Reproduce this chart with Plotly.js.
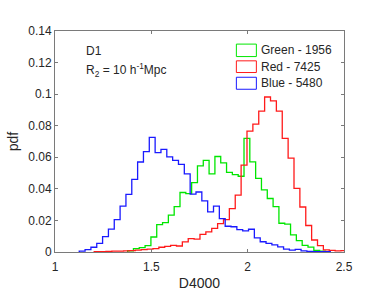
<!DOCTYPE html>
<html>
<head>
<meta charset="utf-8">
<script src="https://cdn.plot.ly/plotly-3.0.1.min.js"></script>
<style>html,body{margin:0;padding:0;background:#fff;}#chart{width:382px;height:305px;}</style>
</head>
<body>
<div id="chart"></div>
<script>
// Histogram (pdf per bin) data
var greenStart = 1.377, greenWidth = 0.0302;
var greenValues = [0.0008,0.0021,0.0028,0.004,0.0095,0.0174,0.0186,0.0233,0.0288,0.0377,0.037,
  0.044,0.0545,0.058,0.0495,0.0605,0.0565,0.0505,0.049,0.048,0.072,
  0.0571,0.0466,0.0394,0.0339,0.0288,0.0182,0.0177,0.0109,0.0072,0.0042,0.0031,0.001,0.0005];

var redStart = 1.2035, redWidth = 0.0305;
var redValues = [0.0003,0.0003,0.0004,0.0005,0.0006,0.0007,0.0009,0.0012,0.0015,0.0018,
  0.0022,0.003,0.0036,0.0042,0.0038,0.0064,0.0085,0.0082,0.0112,0.0127,0.015,0.018,0.0205,
  0.0275,0.036,0.055,0.0766,0.081,0.0893,0.0982,0.0957,0.0893,0.072,0.0595,0.0403,0.0285,
  0.0168,0.0076,0.004,0.0013,0.001,0.0007,0.0009];

var blueStart = 1.1258, blueWidth = 0.0303;
var blueValues = [0.0005,0.0015,0.003,0.0055,0.0098,0.0145,0.0205,0.029,0.0365,0.046,0.057,
  0.0636,0.0726,0.063,0.065,0.0603,0.058,0.0555,0.0495,0.0366,0.038,0.0324,0.0254,0.029,
  0.0212,0.0163,0.016,0.0142,0.0134,0.0144,0.009,0.0065,0.0055,0.0045,0.0033,0.0018,0.0012,
  0.0016,0.0007,0.0004,0.0003,0.0003,0.0002];

var seriesNames = ['Green - 1956', 'Red - 7425', 'Blue - 5480'];
var xTicks = [1, 1.5, 2, 2.5];
var yTicks = [0, 0.02, 0.04, 0.06, 0.08, 0.1, 0.12, 0.14];

function stairs(start, width, vals) {
  var x = [start], y = [0];
  for (var i = 0; i < vals.length; i++) { x.push(start + i * width); y.push(vals[i]); }
  var end = start + vals.length * width;
  x.push(end); y.push(vals[vals.length - 1]);
  x.push(end); y.push(0);
  return {x: x, y: y};
}

var colors = ['#00e600', '#ff1a1a', '#1a1aff'];
var sets = [[greenStart, greenWidth, greenValues], [redStart, redWidth, redValues], [blueStart, blueWidth, blueValues]];
var traces = sets.map(function (s, i) {
  var d = stairs(s[0], s[1], s[2]);
  return {x: d.x, y: d.y, type: 'scatter', mode: 'lines', line: {shape: 'hv', color: colors[i], width: 1.3},
          name: seriesNames[i], showlegend: false, hoverinfo: 'skip'};
});

var font = {family: 'Liberation Sans, Arial, sans-serif', size: 12, color: '#262626'};
var shapes = [], annotations = [];
var legY = [[0.1317, 0.1238, 0.1277], [0.1211, 0.1137, 0.1173], [0.1107, 0.1031, 0.1069]];
for (var i = 0; i < 3; i++) {
  shapes.push({type: 'rect', xref: 'x', yref: 'y', x0: 1.9413, x1: 2.0451, y0: legY[i][1], y1: legY[i][0],
               line: {color: colors[i], width: 1}, fillcolor: 'rgba(0,0,0,0)'});
  annotations.push({xref: 'x', yref: 'y', x: 2.058, y: legY[i][2], text: seriesNames[i], showarrow: false,
                    xanchor: 'left', yanchor: 'middle', font: font});
}
annotations.push({xref: 'x', yref: 'y', x: 1.152, y: 0.1272, text: 'D1', showarrow: false,
                  xanchor: 'left', yanchor: 'middle', font: font});
annotations.push({xref: 'x', yref: 'y', x: 1.152, y: 0.1155, text: 'R<sub>2</sub> = 10 h<sup>-1</sup>Mpc', showarrow: false,
                  xanchor: 'left', yanchor: 'middle', font: font});

var axisCommon = {showgrid: false, zeroline: false, showline: true, linecolor: '#7a7a7a', linewidth: 1,
  mirror: 'allticks', ticks: 'inside', ticklen: 3, tickcolor: '#7a7a7a', tickfont: font};

var layout = {
  width: 382, height: 305,
  margin: {l: 55, r: 38, t: 31, b: 53, pad: 0},
  paper_bgcolor: '#ffffff', plot_bgcolor: '#ffffff',
  xaxis: Object.assign({}, axisCommon, {range: [1, 2.5], tickvals: xTicks, ticktext: xTicks.map(String),
    ticklabelstandoff: 4,
    title: {text: 'D4000', font: {family: font.family, size: 14, color: '#262626'}, standoff: 4}}),
  yaxis: Object.assign({}, axisCommon, {range: [0, 0.14], tickvals: yTicks, ticktext: yTicks.map(String),
    title: {text: 'pdf', font: {family: font.family, size: 14, color: '#262626'}, standoff: 6}}),
  shapes: shapes, annotations: annotations, showlegend: false
};

Plotly.newPlot('chart', traces, layout, {displayModeBar: false, staticPlot: true});
</script>
</body>
</html>
